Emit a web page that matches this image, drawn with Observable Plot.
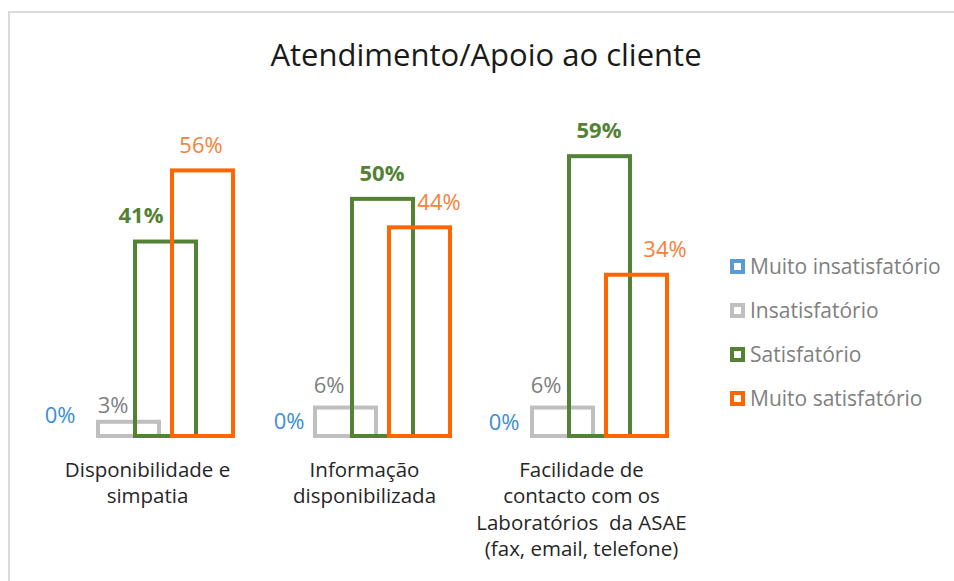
<!DOCTYPE html>
<html>
<head>
<meta charset="utf-8">
<script src="https://cdn.jsdelivr.net/npm/d3@7"></script>
<script src="https://cdn.jsdelivr.net/npm/@observablehq/plot@0.6"></script>
<style>
  html, body { margin: 0; padding: 0; background: #fff; overflow: hidden; }
  #wrap { position: relative; width: 954px; height: 581px; overflow: hidden; font-family: "Open Sans", sans-serif; }
  #frame { position: absolute; left: 8px; top: 11px; width: 2000px; height: 2000px; border: 2px solid #d9d9d9; box-sizing: border-box; }
  #title { position: absolute; left: 9px; top: 39px; width: 954px; text-align: center; font-size: 31px; line-height: 31px; color: #1a1a1a; }
  #chart { position: absolute; left: 0; top: 100px; }
  #legend { position: absolute; left: 730px; top: 244px; }
  .item { display: flex; align-items: center; height: 44px; font-size: 21px; color: #808080; white-space: nowrap; }
  .sw { width: 15px; height: 15px; border: 4px solid; box-sizing: border-box; background: #fff; margin-right: 5px; }
</style>
</head>
<body>
<div id="wrap">
  <div id="frame"></div>
  <div id="title"></div>
  <div id="chart"></div>
  <div id="legend"></div>
</div>
<script>
// ---- data ----
const title = "Atendimento/Apoio ao cliente";
const categories = [
  "Disponibilidade e\nsimpatia",
  "Informação\ndisponibilizada",
  "Facilidade de\ncontacto com os\nLaboratórios  da ASAE\n(fax, email, telefone)"
];
const series = ["Muito insatisfatório", "Insatisfatório", "Satisfatório", "Muito satisfatório"];
const muitoInsatisfatorio = [0.00, 0.00, 0.00];
const insatisfatorio      = [0.03, 0.06, 0.06];
const satisfatorio        = [0.41, 0.50, 0.59];
const muitoSatisfatorio   = [0.56, 0.44, 0.34];

// ---- styles ----
const strokeColors = ["#5B9BD5", "#BFBFBF", "#548235", "#FF6600"];
const labelColors  = ["#3a8dd6", "#7f7f7f", "#548235", "#f7803d"];
const labelWeight  = ["normal", "normal", "bold", "normal"];
// label offsets [dx, dy] per category, per series (presentation only)
const labelOffsets = [
  [[-32, -21], [-16, -16], [-25, -26], [-2, -25]],
  [[-20, -15], [-17, -22], [-1, -25], [19, -25]],
  [[-22, -14], [-17, -22], [-1, -26], [28, -25]]
];

const valuesBySeries = [muitoInsatisfatorio, insatisfatorio, satisfatorio, muitoSatisfatorio];
const data = categories.flatMap((c, i) => series.map((s, j) => ({cat: c, ci: i, series: s, si: j, value: valuesBySeries[j][i]})));
const pct = v => Math.round(v * 100) + "%";

document.getElementById("title").textContent = title;

const labelMarks = data.map(d => Plot.text([d], {
  fx: "cat", x: "series", y: "value",
  text: e => pct(e.value),
  fill: labelColors[d.si],
  fontWeight: labelWeight[d.si],
  fontSize: 22,
  lineAnchor: "middle",
  textAnchor: "middle",
  dx: labelOffsets[d.ci][d.si][0],
  dy: labelOffsets[d.ci][d.si][1]
}));

const chart = Plot.plot({
  width: 710,
  height: 470,
  marginLeft: 37,
  marginRight: 20,
  marginTop: 4,
  marginBottom: 134,
  style: {fontFamily: "'Open Sans', sans-serif", background: "transparent", overflow: "visible"},
  fx: {domain: categories, paddingInner: 0.32, paddingOuter: 0.16, label: null},
  x: {domain: series, padding: 0, axis: null},
  y: {domain: [0, 0.7], axis: null},
  color: {domain: series, range: strokeColors},
  marks: [
    Plot.barY(data.filter(d => d.value > 0), {
      fx: "cat", x: "series", y: "value",
      fill: "none", stroke: "series", strokeWidth: 4,
      insetLeft: -12, insetRight: -12
    }),
    ...labelMarks,
    Plot.axisFx({anchor: "bottom", tickSize: 0, tickPadding: 22, fontSize: 20.5, lineHeight: 1.28, label: null, fill: "#262626"})
  ]
});
document.getElementById("chart").appendChild(chart);

const legend = document.getElementById("legend");
series.forEach((s, i) => {
  const item = document.createElement("div");
  item.className = "item";
  const sw = document.createElement("span");
  sw.className = "sw";
  sw.style.borderColor = strokeColors[i];
  const t = document.createElement("span");
  t.textContent = s;
  item.appendChild(sw);
  item.appendChild(t);
  legend.appendChild(item);
});
</script>
</body>
</html>
